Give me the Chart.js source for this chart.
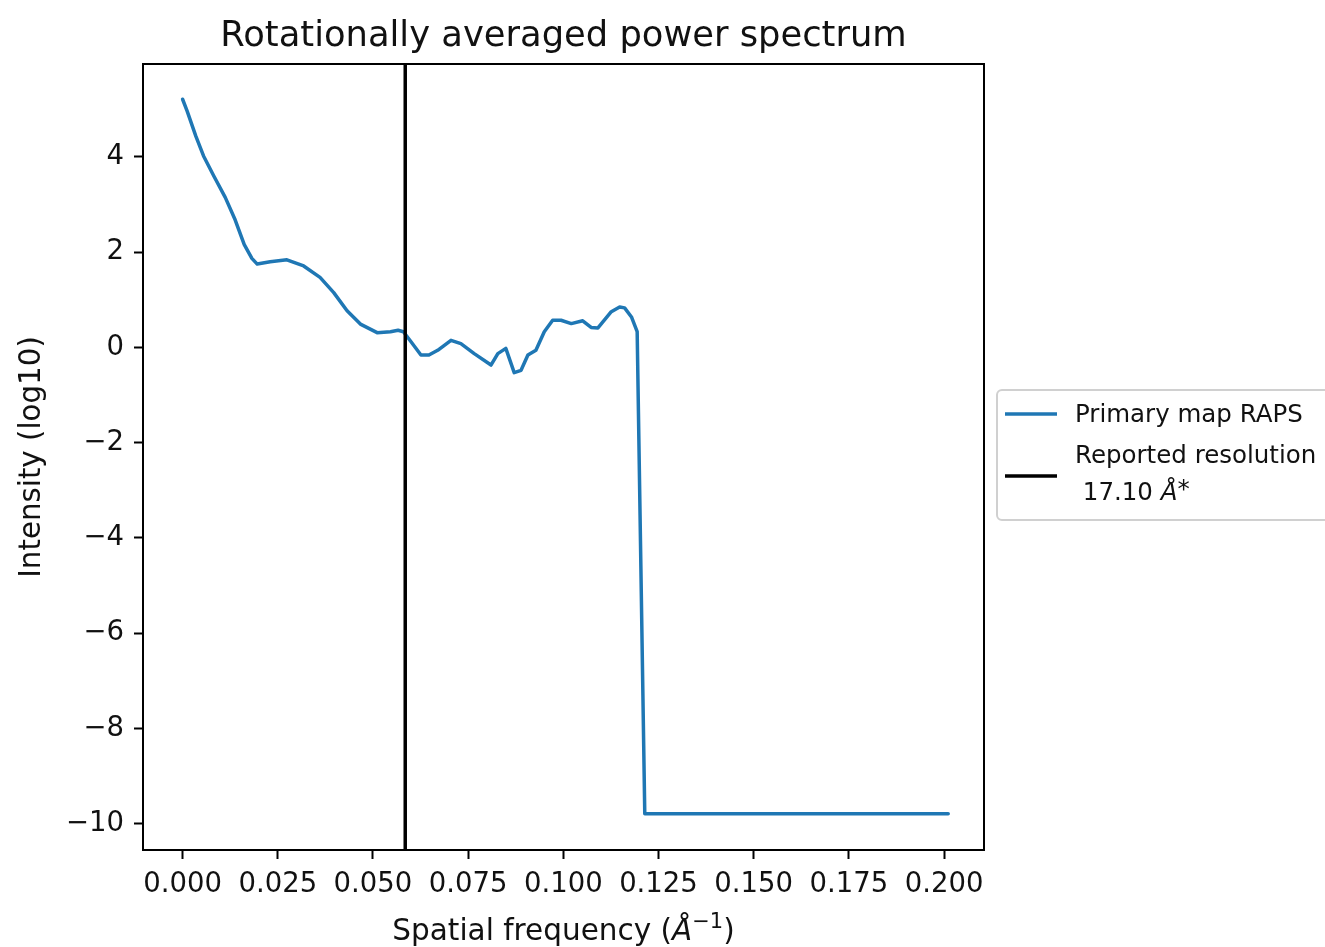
<!DOCTYPE html>
<html lang="en">
  <head>
    <meta charset="UTF-8" />
    <meta name="viewport" content="width=device-width, initial-scale=1.0" />
    <title>Rotationally averaged power spectrum</title>
    <script src="https://cdn.jsdelivr.net/npm/chart.js"></script>
    <style>
      html, body { margin: 0; padding: 0; background: #fff; }
    </style>
  </head>
  <body>
    <canvas id="rapsChart" width="1325" height="947"></canvas>
    <script>
      // spatial frequency (1/Å) and log10 intensity of the primary map RAPS
      const freq = [0.0000, 0.0012, 0.0035, 0.0055, 0.0082, 0.0112, 0.0138, 0.0162, 0.0182, 0.0196,
        0.0230, 0.0274, 0.0318, 0.0361, 0.0397, 0.0432, 0.0467, 0.0511, 0.0546, 0.0566,
        0.0580, 0.0600, 0.0626, 0.0647, 0.0670, 0.0705, 0.0731, 0.0766, 0.0810, 0.0828,
        0.0849, 0.0871, 0.0889, 0.0907, 0.0928, 0.0950, 0.0972, 0.0994, 0.1021, 0.1051,
        0.1073, 0.1091, 0.1126, 0.1148, 0.1161, 0.1179, 0.1194, 0.1214, 0.2011];
      const logIntensity = [5.21, 4.96, 4.43, 4.02, 3.60, 3.15, 2.68, 2.16, 1.87, 1.75,
        1.80, 1.84, 1.71, 1.47, 1.15, 0.77, 0.49, 0.31, 0.33, 0.36,
        0.33, 0.12, -0.16, -0.16, -0.06, 0.15, 0.08, -0.13, -0.37, -0.13,
        -0.02, -0.53, -0.48, -0.16, -0.06, 0.33, 0.57, 0.57, 0.50, 0.56,
        0.42, 0.41, 0.75, 0.85, 0.83, 0.64, 0.33, -9.79, -9.79];

      // reported resolution in Å, drawn as a vertical line at 1/res
      const resolution = 17.10;

      const xLimits = [-0.0104, 0.2105];
      const yLimits = [-10.55, 5.95];
      const xStep = 0.025;
      const yStep = 2;

      const BLUE = "#1f77b4";
      const FONT = "'DejaVu Sans', sans-serif";

      const minus = (v) => (v < 0 ? "\u2212" + Math.abs(v) : String(v));

      // title, axis labels, frame and legend are drawn by hand
      const decorations = {
        id: "decorations",
        afterDatasetsDraw(chart) {
          const { ctx, chartArea: a } = chart;
          ctx.save();
          // frame
          ctx.strokeStyle = "#000";
          ctx.lineWidth = 2;
          ctx.strokeRect(a.left, a.top, a.right - a.left, a.bottom - a.top);
          ctx.restore();
        },
        afterDraw(chart) {
          const { ctx, chartArea: a } = chart;
          const cx = (a.left + a.right) / 2;
          ctx.save();
          ctx.fillStyle = "#111";
          ctx.textBaseline = "alphabetic";

          // title
          ctx.font = "35.3px " + FONT;
          ctx.textAlign = "center";
          ctx.fillText("Rotationally averaged power spectrum", cx, 46);

          // y label
          ctx.save();
          ctx.translate(40, (a.top + a.bottom) / 2);
          ctx.rotate(-Math.PI / 2);
          ctx.font = "29.3px " + FONT;
          ctx.fillText("Intensity (log10)", 0, 0);
          ctx.restore();

          // x label with italic Å and superscript
          const parts = [
            { t: "Spatial frequency (", f: "29.5px " + FONT, dy: 0 },
            { t: "\u00c5", f: "italic 29.5px " + FONT, dy: 0 },
            { t: "\u22121", f: "21px " + FONT, dy: -12 },
            { t: ")", f: "29.5px " + FONT, dy: 0 },
          ];
          let w = 0;
          parts.forEach((p) => { ctx.font = p.f; p.w = ctx.measureText(p.t).width; w += p.w; });
          let x = cx - w / 2;
          ctx.textAlign = "left";
          parts.forEach((p) => { ctx.font = p.f; ctx.fillText(p.t, x, 940 + p.dy); x += p.w; });

          // legend
          const lx = 997, ly = 390, lw = 345, lh = 130;
          ctx.beginPath();
          ctx.roundRect(lx, ly, lw, lh, 5);
          ctx.fillStyle = "rgba(255,255,255,0.8)";
          ctx.fill();
          ctx.strokeStyle = "#d0d0d0";
          ctx.lineWidth = 2;
          ctx.stroke();

          ctx.lineWidth = 3.5;
          ctx.strokeStyle = BLUE;
          ctx.beginPath(); ctx.moveTo(1005, 414); ctx.lineTo(1057, 414); ctx.stroke();
          ctx.strokeStyle = "#000";
          ctx.beginPath(); ctx.moveTo(1005, 476); ctx.lineTo(1057, 476); ctx.stroke();

          ctx.fillStyle = "#111";
          ctx.textBaseline = "middle";
          ctx.font = "24.5px " + FONT;
          ctx.fillText("Primary map RAPS", 1075, 416);
          ctx.fillText("Reported resolution", 1075, 457);
          let tx = 1075;
          const res = " " + resolution.toFixed(2) + " ";
          ctx.fillText(res, tx, 494);
          tx += ctx.measureText(res).width;
          ctx.font = "italic 24.5px " + FONT;
          ctx.fillText("\u00c5", tx, 494);
          tx += ctx.measureText("\u00c5").width;
          ctx.font = "24.5px " + FONT;
          ctx.fillText("*", tx, 491);
          ctx.restore();
        },
      };

      const tickFont = { family: FONT, size: 27.5 };

      new Chart(document.getElementById("rapsChart"), {
        type: "scatter",
        data: {
          datasets: [
            {
              label: "Reported resolution",
              data: [
                { x: 1 / resolution, y: yLimits[0] },
                { x: 1 / resolution, y: yLimits[1] },
              ],
              showLine: true,
              borderColor: "#000",
              borderWidth: 3.5,
              pointRadius: 0,
              order: 0,
            },
            {
              label: "Primary map RAPS",
              data: freq.map((f, i) => ({ x: f, y: logIntensity[i] })),
              showLine: true,
              borderColor: BLUE,
              borderWidth: 3.5,
              borderJoinStyle: "round",
              borderCapStyle: "round",
              pointRadius: 0,
              tension: 0,
              order: 1,
            },
          ],
        },
        options: {
          responsive: false,
          animation: false,
          devicePixelRatio: 1,
          layout: { padding: { left: 0, top: 64, right: 341, bottom: 0 } },
          plugins: {
            legend: { display: false },
            title: { display: false },
            tooltip: { enabled: false },
          },
          scales: {
            x: {
              type: "linear",
              min: xLimits[0],
              max: xLimits[1],
              ticks: {
                stepSize: xStep,
                includeBounds: false,
                font: tickFont,
                color: "#111",
                padding: 9,
                maxRotation: 0,
                autoSkip: false,
                callback: (v) => v.toFixed(3),
              },
              grid: { drawOnChartArea: false, tickLength: 9, tickWidth: 2, color: "#000" },
              border: { display: true, color: "#000", width: 2 },
              afterFit: (s) => { s.height = 97; },
            },
            y: {
              type: "linear",
              min: yLimits[0],
              max: yLimits[1],
              ticks: {
                stepSize: yStep,
                includeBounds: false,
                font: tickFont,
                color: "#111",
                padding: 10,
                callback: (v) => minus(v),
              },
              grid: { drawOnChartArea: false, tickLength: 9, tickWidth: 2, color: "#000" },
              border: { display: true, color: "#000", width: 2 },
              afterFit: (s) => { s.width = 143; },
            },
          },
        },
        plugins: [decorations],
      });
    </script>
  </body>
</html>
